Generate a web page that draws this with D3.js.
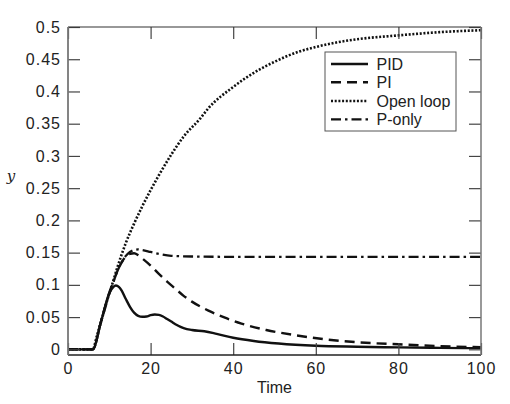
<!DOCTYPE html>
<html><head><meta charset="utf-8">
<script src="https://cdn.jsdelivr.net/npm/d3@7"></script>
<style>
body{margin:0;background:#fff;}
svg{display:block;}
text{font-family:"Liberation Sans",Arial,sans-serif;fill:#222;}
</style></head>
<body><svg id="c" width="510" height="404"></svg>
<script>
// ---- data ----
const seriesNames = ["PID", "PI", "Open loop", "P-only"];
const pidT = [0,6,8,10,11,11.6,12.3,13,14,15,16,17,18,19,20,21,22,23,24,25,26,28,30,33,36,40,45,51,60,70,80,90,100];
const pidY = [0,0,0.043,0.087,0.097,0.099,0.097,0.091,0.078,0.066,0.057,0.052,0.0505,0.051,0.053,0.054,0.0535,0.051,0.047,0.043,0.039,0.033,0.030,0.028,0.024,0.018,0.013,0.009,0.0055,0.004,0.003,0.0022,0.0018];
const piT = [0,6,8,10,11,12,13,14,15,16,17,18,20,22,24,26,28,30,34,38,42,48,55,62,70,80,90,100];
const piY = [0,0,0.043,0.087,0.105,0.122,0.135,0.144,0.148,0.149,0.146,0.141,0.130,0.117,0.105,0.094,0.083,0.074,0.060,0.049,0.040,0.030,0.022,0.0157,0.011,0.0078,0.005,0.0034];
const olT = [0,6,7,8,9,10,11,12,14,16,18,20,22,25,28,32,34,40,45,50,56,60,65,70,80,90,100];
const olY = [0,0,0.021,0.043,0.065,0.087,0.107,0.128,0.165,0.195,0.222,0.247,0.270,0.302,0.330,0.358,0.374,0.407,0.429,0.446,0.462,0.469,0.476,0.481,0.487,0.492,0.495];
const poT = [0,6,8,10,11,12,13,14,15,16,17,18,20,22,25,30,40,60,80,100];
const poY = [0,0,0.043,0.087,0.105,0.122,0.135,0.145,0.151,0.154,0.155,0.154,0.151,0.148,0.145,0.144,0.1435,0.1435,0.1435,0.1435];
const xTicks = [0,20,40,60,80,100];
const yTicks = [0,0.05,0.1,0.15,0.2,0.25,0.3,0.35,0.4,0.45,0.5];
const yTickLabels = ["0","0.05","0.1","0.15","0.2","0.25","0.3","0.35","0.4","0.45","0.5"];

// ---- layout ----
const L=68,R=481,T=27,B=355;
const svg=d3.select("#c");
const x=d3.scaleLinear().domain([0,100]).range([L,R]);
const y=d3.scaleLinear().domain([-0.0088,0.5]).range([B,T]);

const series=[
 {name:seriesNames[0],t:pidT,v:pidY,dash:null,w:2.4},
 {name:seriesNames[1],t:piT,v:piY,dash:"10,6",w:2.4},
 {name:seriesNames[2],t:olT,v:olY,dash:"2,1.7",w:2.6},
 {name:seriesNames[3],t:poT,v:poY,dash:"10,4,2.5,4",w:2.3}
];
const line=d3.line().x(d=>x(d[0])).y(d=>y(d[1])).curve(d3.curveMonotoneX);

const plot=svg.append("g");
svg.append("clipPath").attr("id","clip").append("rect").attr("x",L).attr("y",T).attr("width",R-L).attr("height",B-T);
const g=plot.append("g").attr("clip-path","url(#clip)");
[2,3,1,0].forEach(i=>{
  const s=series[i];
  g.append("path").datum(s.t.map((t,j)=>[t,s.v[j]]))
   .attr("d",line).attr("fill","none").attr("stroke","#111")
   .attr("stroke-width",s.w).attr("stroke-dasharray",s.dash);
});

// axes (ticks inward on all sides)
const tl=12;
const fmtY=(d,i)=>yTickLabels[i];
const axB=svg.append("g").attr("transform",`translate(0,${B})`)
  .call(d3.axisBottom(x).tickValues(xTicks).tickSize(-tl).tickSizeOuter(0).tickPadding(8));
const axT=svg.append("g").attr("transform",`translate(0,${T})`)
  .call(d3.axisTop(x).tickValues(xTicks).tickSize(-tl).tickSizeOuter(0).tickFormat(""));
const axL=svg.append("g").attr("transform",`translate(${L},0)`)
  .call(d3.axisLeft(y).tickValues(yTicks).tickSize(-tl).tickSizeOuter(0).tickPadding(7).tickFormat(fmtY));
const axR=svg.append("g").attr("transform",`translate(${R},0)`)
  .call(d3.axisRight(y).tickValues(yTicks).tickSize(-tl).tickSizeOuter(0).tickFormat(""));
[axB,axT,axL,axR].forEach(a=>{
  a.select(".domain").remove();
  a.selectAll(".tick line").attr("stroke","#444").attr("stroke-width",1.2);
  a.selectAll("text").attr("font-size","16px").attr("fill","#222")
   .style("font-family","Liberation Sans, Arial, sans-serif").style("letter-spacing","1px");
});
axB.selectAll(".tick text").attr("dy","0.71em");
// frame
svg.append("line").attr("x1",L).attr("x2",R).attr("y1",B).attr("y2",B).attr("stroke","#222").attr("stroke-width",1.5);
svg.append("line").attr("x1",L).attr("x2",R).attr("y1",T).attr("y2",T).attr("stroke","#333").attr("stroke-width",1.2);
svg.append("line").attr("x1",L).attr("x2",L).attr("y1",T).attr("y2",B).attr("stroke","#777").attr("stroke-width",1.8);
svg.append("line").attr("x1",R).attr("x2",R).attr("y1",T).attr("y2",B).attr("stroke","#777").attr("stroke-width",1.5);

// axis labels
svg.append("text").attr("x",(L+R)/2).attr("y",393).attr("text-anchor","middle")
  .attr("font-size","16px").text("Time");
svg.append("text").attr("x",11).attr("y",181).attr("text-anchor","middle")
  .style("font-family","DejaVu Serif, Liberation Serif, serif").style("font-style","italic")
  .attr("font-size","15px").text("y");

// legend
const lg=svg.append("g");
lg.append("rect").attr("x",325).attr("y",52).attr("width",131).attr("height",79)
  .attr("fill","#fff").attr("stroke","#555").attr("stroke-width",1);
const ly=[64,82.3,101,119.3];
series.forEach((s,i)=>{
  lg.append("line").attr("x1",331).attr("x2",368).attr("y1",ly[i]).attr("y2",ly[i])
    .attr("stroke","#111").attr("stroke-width",s.w).attr("stroke-dasharray",s.dash);
  lg.append("text").attr("x",376.5).attr("y",ly[i]).attr("dy","0.36em")
    .attr("font-size","16px").text(s.name);
});
</script></body></html>
